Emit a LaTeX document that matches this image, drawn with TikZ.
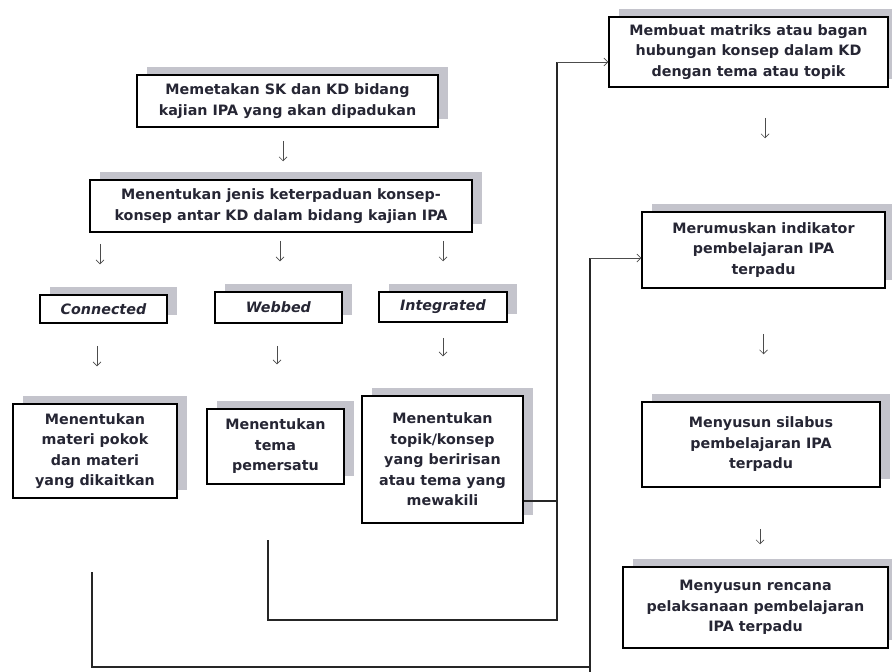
\documentclass[tikz,border=0pt]{standalone}
\usepackage{fontspec}
\setmainfont{DejaVu Sans}
\usetikzlibrary{arrows.meta,shadows}
\definecolor{txt}{RGB}{38,38,52}
\definecolor{shd}{RGB}{196,196,204}
\begin{document}
\begin{tikzpicture}[x=1pt,y=-1pt,
  box/.style={draw=black, line width=1.5pt, fill=white, align=center, inner sep=2pt,
    text=txt, font=\fontsize{14.3}{20.5}\selectfont\bfseries,
    general shadow={fill=shd, shadow xshift=10pt, shadow yshift=8pt}},
  conn/.style={draw=black!85, line width=1.5pt},
  arr/.style={draw=black!70, line width=0.7pt, -{Straight Barb[length=4pt,width=8pt]}}
]
\useasboundingbox[fill=white] (0,0) rectangle (892,672);

% left column
\node[box, minimum width=301pt, minimum height=52pt] (B1) at (287.5,101)
  {Memetakan SK dan KD bidang\\kajian IPA yang akan dipadukan};
\node[box, minimum width=382pt, minimum height=52pt] (B2) at (281,206)
  {Menentukan jenis keterpaduan konsep-\\konsep antar KD dalam bidang kajian IPA};
\node[box, minimum width=127pt, minimum height=28pt] (Conn) at (103.5,309) {\textit{Connected}};
\node[box, minimum width=127pt, minimum height=31pt] (Webb) at (278.5,307.5) {\textit{Webbed}};
\node[box, minimum width=128pt, minimum height=30pt] (Integ) at (443,307) {\textit{Integrated}};
\node[box, minimum width=164pt, minimum height=94pt] (R1) at (95,451)
  {Menentukan\\materi pokok\\dan materi\\yang dikaitkan};
\node[box, minimum width=137pt, minimum height=75pt] (R2) at (275.5,446.5)
  {Menentukan\\tema\\pemersatu};
\node[box, minimum width=161pt, minimum height=127pt] (R3) at (442.5,459.5)
  {Menentukan\\topik/konsep\\yang beririsan\\atau tema yang\\mewakili};

% right column
\node[box, minimum width=279pt, minimum height=70pt] (M1) at (748.5,52)
  {Membuat matriks atau bagan\\hubungan konsep dalam KD\\dengan tema atau topik};
\node[box, minimum width=243pt, minimum height=76pt] (M2) at (763.5,250)
  {Merumuskan indikator\\pembelajaran IPA\\terpadu};
\node[box, minimum width=238pt, minimum height=85pt] (M3) at (761,444.5)
  {Menyusun silabus\\pembelajaran IPA\\terpadu};
\node[box, minimum width=265pt, minimum height=81pt] (M4) at (755.5,607.5)
  {Menyusun rencana\\pelaksanaan pembelajaran\\IPA terpadu};

% short floating arrows
\draw[arr, shorten <=13pt, shorten >=18pt] ([xshift=-4.5pt]B1.south) -- ([xshift=-4.5pt]B1.south |- B2.north);
\draw[arr, shorten <=11pt, shorten >=30pt] ([xshift=-181pt]B2.south) -- ([xshift=-181pt]B2.south |- Conn.north);
\draw[arr, shorten <=8pt, shorten >=30pt] ([xshift=-1pt]B2.south) -- ([xshift=-1pt]B2.south |- Webb.north);
\draw[arr, shorten <=8pt, shorten >=30pt] ([xshift=162pt]B2.south) -- ([xshift=162pt]B2.south |- Integ.north);
\draw[arr, shorten <=22pt, shorten >=37pt] ([xshift=-6.5pt]Conn.south) -- ([xshift=-6.5pt]Conn.south |- R1.north);
\draw[arr, shorten <=22pt, shorten >=44pt] ([xshift=-1.5pt]Webb.south) -- ([xshift=-1.5pt]Webb.south |- R2.north);
\draw[arr, shorten <=15pt, shorten >=39pt] (Integ.south) -- (Integ.south |- R3.north);
\draw[arr, shorten <=30pt, shorten >=73pt] ([xshift=16.5pt]M1.south) -- ([xshift=16.5pt]M1.south |- M2.north);
\draw[arr, shorten <=45pt, shorten >=47pt] (M2.south) -- (M2.south |- M3.north);
\draw[arr, shorten <=41pt, shorten >=22pt] ([xshift=-1pt]M3.south) -- ([xshift=-1pt]M3.south |- M4.north);

% long connectors
\coordinate (k1) at (557,501);
\coordinate (j1) at (557,62);
\coordinate (w1) at (268,540);
\coordinate (w2) at (268,620);
\coordinate (w3) at (557,620);
\draw[conn] ([yshift=-41.5pt]R3.east) -- (k1);
\draw[conn] (w1) -- (w2) -- (w3) -- (j1);
\draw[arr] (j1) -- (M1.west |- j1);

\coordinate (c1) at (92,572);
\coordinate (c2) at (92,667);
\coordinate (c3) at (590,667);
\coordinate (c4) at (590,258);
\coordinate (c5) at (590,672);
\draw[conn] (c1) -- (c2) -- (c3);
\draw[conn] (c5) -- (c4);
\draw[arr] (c4) -- (M2.west |- c4);
\end{tikzpicture}
\end{document}
